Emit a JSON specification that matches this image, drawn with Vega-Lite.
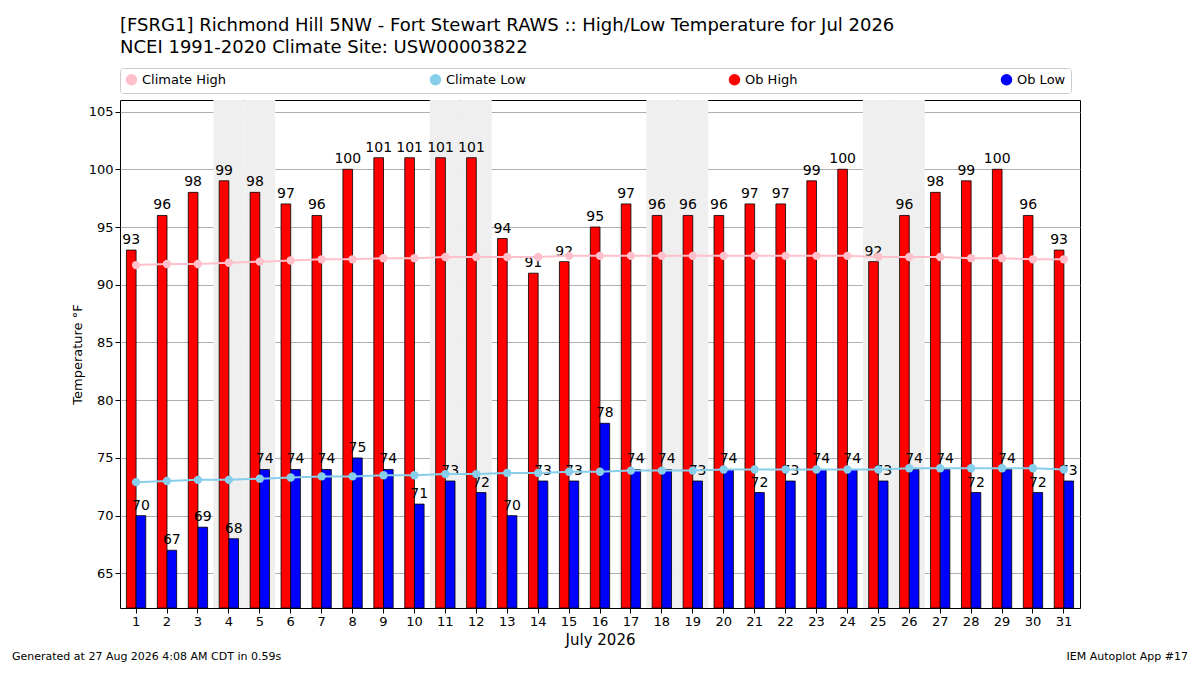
{
  "$schema": "https://vega.github.io/schema/vega-lite/v6.json",
  "width": 960,
  "height": 508,
  "autosize": "none",
  "padding": {"left": 120, "top": 100, "right": 120, "bottom": 67},
  "background": "white",
  "config": {"font": "DejaVu Sans", "view": {"stroke": "black"}},
  "title": {
    "text": "[FSRG1] Richmond Hill 5NW - Fort Stewart RAWS :: High/Low Temperature for Jul 2026",
    "subtitle": "NCEI 1991-2020 Climate Site: USW00003822",
    "anchor": "start", "frame": "group", "dx": 0, "offset": 11,
    "fontSize": 18, "fontWeight": "normal", "subtitleFontSize": 18, "subtitleColor": "black", "subtitlePadding": 4
  },
  "data": {"values": [
    {"day": 1, "high": 93, "low": 70, "chigh": 91.7, "clow": 72.9, "wk": 0},
    {"day": 2, "high": 96, "low": 67, "chigh": 91.8, "clow": 73.0, "wk": 0},
    {"day": 3, "high": 98, "low": 69, "chigh": 91.8, "clow": 73.1, "wk": 0},
    {"day": 4, "high": 99, "low": 68, "chigh": 91.9, "clow": 73.1, "wk": 1},
    {"day": 5, "high": 98, "low": 74, "chigh": 92.0, "clow": 73.2, "wk": 1},
    {"day": 6, "high": 97, "low": 74, "chigh": 92.1, "clow": 73.3, "wk": 0},
    {"day": 7, "high": 96, "low": 74, "chigh": 92.2, "clow": 73.4, "wk": 0},
    {"day": 8, "high": 100, "low": 75, "chigh": 92.2, "clow": 73.4, "wk": 0},
    {"day": 9, "high": 101, "low": 74, "chigh": 92.3, "clow": 73.5, "wk": 0},
    {"day": 10, "high": 101, "low": 71, "chigh": 92.3, "clow": 73.5, "wk": 0},
    {"day": 11, "high": 101, "low": 73, "chigh": 92.4, "clow": 73.6, "wk": 1},
    {"day": 12, "high": 101, "low": 72, "chigh": 92.4, "clow": 73.6, "wk": 1},
    {"day": 13, "high": 94, "low": 70, "chigh": 92.4, "clow": 73.7, "wk": 0},
    {"day": 14, "high": 91, "low": 73, "chigh": 92.4, "clow": 73.7, "wk": 0},
    {"day": 15, "high": 92, "low": 73, "chigh": 92.5, "clow": 73.8, "wk": 0},
    {"day": 16, "high": 95, "low": 78, "chigh": 92.5, "clow": 73.8, "wk": 0},
    {"day": 17, "high": 97, "low": 74, "chigh": 92.5, "clow": 73.9, "wk": 0},
    {"day": 18, "high": 96, "low": 74, "chigh": 92.5, "clow": 73.9, "wk": 1},
    {"day": 19, "high": 96, "low": 73, "chigh": 92.5, "clow": 73.9, "wk": 1},
    {"day": 20, "high": 96, "low": 74, "chigh": 92.5, "clow": 74.0, "wk": 0},
    {"day": 21, "high": 97, "low": 72, "chigh": 92.5, "clow": 74.0, "wk": 0},
    {"day": 22, "high": 97, "low": 73, "chigh": 92.5, "clow": 74.0, "wk": 0},
    {"day": 23, "high": 99, "low": 74, "chigh": 92.5, "clow": 74.0, "wk": 0},
    {"day": 24, "high": 100, "low": 74, "chigh": 92.5, "clow": 74.0, "wk": 0},
    {"day": 25, "high": 92, "low": 73, "chigh": 92.4, "clow": 74.0, "wk": 1},
    {"day": 26, "high": 96, "low": 74, "chigh": 92.4, "clow": 74.1, "wk": 1},
    {"day": 27, "high": 98, "low": 74, "chigh": 92.4, "clow": 74.1, "wk": 0},
    {"day": 28, "high": 99, "low": 72, "chigh": 92.3, "clow": 74.1, "wk": 0},
    {"day": 29, "high": 100, "low": 74, "chigh": 92.3, "clow": 74.1, "wk": 0},
    {"day": 30, "high": 96, "low": 72, "chigh": 92.2, "clow": 74.1, "wk": 0},
    {"day": 31, "high": 93, "low": 73, "chigh": 92.2, "clow": 74.0, "wk": 0}
  ]},
  "encoding": {
    "x": {"field": "day", "type": "ordinal", "title": "July 2026",
      "scale": {"paddingInner": 0, "paddingOuter": 0.02},
      "axis": {"labelAngle": 0, "labelFontSize": 13, "titleFontSize": 15, "titleFontWeight": "normal", "labelColor": "black", "titleColor": "black", "tickColor": "black", "domain": false}}
  },
  "layer": [
    {
      "transform": [{"filter": "datum.wk == 1"}],
      "mark": {"type": "bar", "color": "#efefef"},
      "encoding": {"y": {"datum": 62}, "y2": {"datum": 106}}
    },
    {
      "transform": [{"fold": ["high", "low"], "as": ["series", "val"]}],
      "encoding": {
        "xOffset": {"field": "series", "type": "nominal", "scale": {"paddingOuter": 0.6, "paddingInner": 0}},
        "y": {"field": "val", "type": "quantitative", "title": "Temperature °F",
          "scale": {"domain": [62, 106], "nice": false, "zero": false},
          "axis": {"values": [65, 70, 75, 80, 85, 90, 95, 100, 105], "grid": true, "gridColor": "#b0b0b0", "labelFontSize": 13, "titleFontSize": 13, "titleFontWeight": "normal", "labelColor": "black", "titleColor": "black", "tickColor": "black", "domain": false}}
      },
      "layer": [
        {
          "mark": {"type": "bar", "stroke": "black", "strokeWidth": 0.8, "clip": true},
          "encoding": {
            "y2": {"datum": 62},
            "fill": {"field": "series", "type": "nominal", "scale": {"domain": ["high", "low"], "range": ["#ff0000", "#0000ff"]}, "legend": null}
          }
        },
        {
          "mark": {"type": "text", "dy": -10, "fontSize": 14, "color": "black"},
          "encoding": {"text": {"field": "val"}}
        }
      ]
    },
    {
      "transform": [
        {"fold": ["chigh", "clow"], "as": ["ck", "cval"]},
        {"calculate": "datum.ck == 'chigh' ? 'Climate High' : 'Climate Low'", "as": "cseries"}
      ],
      "encoding": {
        "y": {"field": "cval", "type": "quantitative"},
        "color": {"field": "cseries", "type": "nominal",
          "scale": {"domain": ["Climate High", "Climate Low", "Ob High", "Ob Low"], "range": ["#ffc0cb", "#87ceeb", "#ff0000", "#0000ff"]},
          "legend": {"title": null, "orient": "none", "legendX": 0, "legendY": -32, "direction": "horizontal", "columns": 4, "columnPadding": 200, "labelFontSize": 13, "labelColor": "black", "symbolType": "circle", "strokeColor": "#cccccc", "padding": 5, "cornerRadius": 3}
        }
      },
      "layer": [
        {"mark": {"type": "line", "strokeWidth": 2}},
        {"mark": {"type": "point", "filled": true, "opacity": 1, "size": 70}}
      ]
    },
    {
      "transform": [{"filter": "datum.day == 1"}],
      "mark": {"type": "text", "align": "left", "fontSize": 11, "color": "black"},
      "encoding": {"x": {"value": -108}, "y": {"value": 557}, "text": {"value": "Generated at 27 Aug 2026 4:08 AM CDT in 0.59s"}}
    },
    {
      "transform": [{"filter": "datum.day == 1"}],
      "mark": {"type": "text", "align": "right", "fontSize": 11, "color": "black"},
      "encoding": {"x": {"value": 1068}, "y": {"value": 557}, "text": {"value": "IEM Autoplot App #17"}}
    }
  ]
}
